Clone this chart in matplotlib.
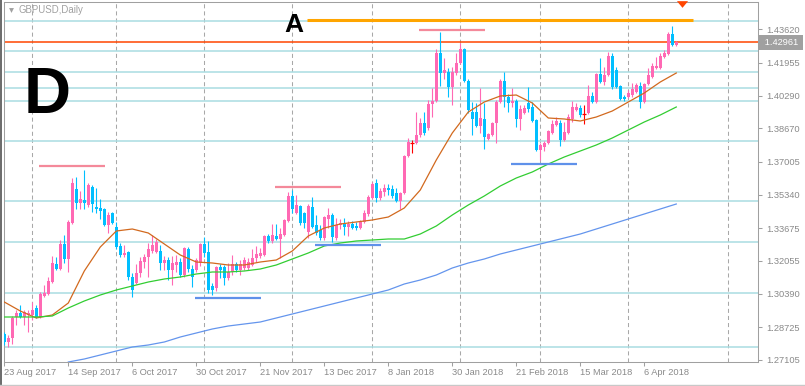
import numpy as np
import matplotlib.pyplot as plt
import matplotlib.transforms as mtransforms
from matplotlib.lines import Line2D
from matplotlib.patches import Rectangle

plt.rcParams['font.family'] = ['Liberation Sans', 'DejaVu Sans']

# ---- GBPUSD daily bars (bar 0 = 23 Aug 2017) ----
opens = [1.2838, 1.2798, 1.2818, 1.2923, 1.2943, 1.2923, 1.2933, 1.2933, 1.2968, 1.2923,
         1.3028, 1.3038, 1.3098, 1.3188, 1.3163, 1.3288, 1.3213, 1.3393, 1.3563, 1.3493,
         1.3508, 1.3483, 1.3573, 1.3473, 1.3468, 1.3463, 1.3383, 1.3443, 1.3373, 1.3278,
         1.3233, 1.3248, 1.3123, 1.3093, 1.3143, 1.3198, 1.3223, 1.3253, 1.3248, 1.3253,
         1.3193, 1.3208, 1.3158, 1.3183, 1.3198, 1.3133, 1.3263, 1.3163, 1.3158, 1.3193,
         1.3288, 1.3248, 1.3078, 1.3068, 1.3173, 1.3173, 1.3118, 1.3148, 1.3188, 1.3158,
         1.3168, 1.3168, 1.3183, 1.3218, 1.3228, 1.3233, 1.3328, 1.3303, 1.3328, 1.3313,
         1.3333, 1.3403, 1.3528, 1.3443, 1.3478, 1.3443, 1.3348, 1.3473, 1.3383, 1.3358,
         1.3318, 1.3413, 1.3433, 1.3318, 1.3383, 1.3388, 1.3373, 1.3388, 1.3378, 1.3368,
         1.3398, 1.3438, 1.3518, 1.3593, 1.3518, 1.3548, 1.3568, 1.3563, 1.3543, 1.3503,
         1.3543, 1.3728, 1.3793, 1.3793, 1.3833, 1.3893, 1.3868, 1.3988, 1.4003, 1.4243,
         1.4143, 1.4148, 1.4073, 1.4143, 1.4193, 1.4263, 1.4103, 1.3948, 1.3948, 1.3878,
         1.3913, 1.3813, 1.3833, 1.3893, 1.3998, 1.4103, 1.4023, 1.3993, 1.4003, 1.3913,
         1.3943, 1.3993, 1.3973, 1.3908, 1.3758, 1.3773, 1.3793, 1.3843, 1.3883, 1.3893,
         1.3808, 1.3843, 1.3913, 1.3958, 1.3968, 1.3938, 1.3943, 1.4028, 1.3998, 1.4138,
         1.4098, 1.4133, 1.4228, 1.4158, 1.4078, 1.4023, 1.4023, 1.4033, 1.4048, 1.4078,
         1.3998, 1.4088, 1.4123, 1.4168, 1.4168, 1.4223, 1.4238, 1.4338, 1.4283]
highs = [1.2848, 1.2833, 1.2928, 1.2958, 1.2983, 1.2958, 1.2958, 1.2998, 1.2983, 1.3048,
         1.3083, 1.3123, 1.3228, 1.3223, 1.3308, 1.3333, 1.3408, 1.3618, 1.3623, 1.3553,
         1.3658, 1.3593, 1.3583, 1.3568, 1.3513, 1.3468, 1.3448, 1.3448, 1.3398, 1.3293,
         1.3283, 1.3253, 1.3143, 1.3188, 1.3223, 1.3238, 1.3293, 1.3333, 1.3313, 1.3283,
         1.3228, 1.3223, 1.3228, 1.3233, 1.3218, 1.3273, 1.3273, 1.3183, 1.3218, 1.3293,
         1.3323, 1.3303, 1.3093, 1.3178, 1.3188, 1.3183, 1.3193, 1.3233, 1.3198, 1.3208,
         1.3223, 1.3218, 1.3263, 1.3278, 1.3268, 1.3333, 1.3338, 1.3388, 1.3388, 1.3368,
         1.3413, 1.3548, 1.3558, 1.3533, 1.3483, 1.3448, 1.3488, 1.3523, 1.3433, 1.3383,
         1.3428, 1.3468, 1.3443, 1.3418, 1.3413, 1.3418, 1.3403, 1.3403, 1.3398, 1.3408,
         1.3458, 1.3533, 1.3598, 1.3613, 1.3568, 1.3588, 1.3588, 1.3583, 1.3568, 1.3548,
         1.3733, 1.3818, 1.3808, 1.3948, 1.3918, 1.3948, 1.4008, 1.4068, 1.4263, 1.4348,
         1.4218, 1.4168, 1.4173, 1.4243, 1.4293, 1.4268, 1.4113, 1.3998, 1.3993, 1.4068,
         1.3993, 1.3843, 1.3898, 1.4008, 1.4113, 1.4148, 1.4038, 1.4068, 1.4013, 1.3983,
         1.3983, 1.4073, 1.3998, 1.3913, 1.3793, 1.3803, 1.3858, 1.3908, 1.3923, 1.3908,
         1.3898, 1.3938, 1.4003, 1.3993, 1.3983, 1.3983, 1.4083, 1.4048, 1.4143, 1.4218,
         1.4173, 1.4248, 1.4243, 1.4173, 1.4083, 1.4033, 1.4058, 1.4093, 1.4093, 1.4098,
         1.4093, 1.4168, 1.4193, 1.4223, 1.4243, 1.4258, 1.4348, 1.4378, 1.4303]
lows = [1.2783, 1.2773, 1.2788, 1.2883, 1.2918, 1.2883, 1.2848, 1.2908, 1.2918, 1.2918,
        1.3023, 1.3033, 1.3093, 1.3158, 1.3158, 1.3193, 1.3148, 1.3388, 1.3463, 1.3463,
        1.3463, 1.3473, 1.3448, 1.3443, 1.3413, 1.3378, 1.3343, 1.3388, 1.3263, 1.3223,
        1.3223, 1.3108, 1.3023, 1.3088, 1.3123, 1.3168, 1.3123, 1.3243, 1.3243, 1.3158,
        1.3158, 1.3108, 1.3083, 1.3148, 1.3123, 1.3123, 1.3148, 1.3073, 1.3148, 1.3178,
        1.3223, 1.3043, 1.3033, 1.3053, 1.3118, 1.3083, 1.3108, 1.3133, 1.3148, 1.3133,
        1.3158, 1.3158, 1.3178, 1.3198, 1.3218, 1.3228, 1.3293, 1.3293, 1.3308, 1.3218,
        1.3328, 1.3398, 1.3443, 1.3438, 1.3383, 1.3368, 1.3318, 1.3368, 1.3333, 1.3308,
        1.3308, 1.3368, 1.3298, 1.3308, 1.3363, 1.3333, 1.3328, 1.3363, 1.3358, 1.3363,
        1.3393, 1.3428, 1.3513, 1.3498, 1.3508, 1.3528, 1.3533, 1.3518, 1.3498, 1.3463,
        1.3538, 1.3723, 1.3743, 1.3788, 1.3823, 1.3833, 1.3858, 1.3923, 1.3998, 1.4078,
        1.4113, 1.4023, 1.3983, 1.4133, 1.4188, 1.4098, 1.3943, 1.3833, 1.3873, 1.3843,
        1.3763, 1.3808, 1.3828, 1.3793, 1.3993, 1.3973, 1.3948, 1.3973, 1.3873, 1.3858,
        1.3938, 1.3948, 1.3898, 1.3753, 1.3708, 1.3753, 1.3788, 1.3838, 1.3878, 1.3778,
        1.3803, 1.3838, 1.3898, 1.3953, 1.3923, 1.3888, 1.3938, 1.3993, 1.3993, 1.4093,
        1.4083, 1.4128, 1.4063, 1.4068, 1.4008, 1.4003, 1.4018, 1.4023, 1.4043, 1.3968,
        1.3993, 1.4083, 1.4118, 1.4163, 1.4163, 1.4218, 1.4233, 1.4278, 1.4278]
closes = [1.2798, 1.2818, 1.2918, 1.2943, 1.2923, 1.2948, 1.2943, 1.2958, 1.2923, 1.3038,
          1.3043, 1.3103, 1.3193, 1.3163, 1.3288, 1.3213, 1.3398, 1.3593, 1.3493, 1.3513,
          1.3493, 1.3583, 1.3488, 1.3463, 1.3453, 1.3383, 1.3433, 1.3393, 1.3273, 1.3233,
          1.3243, 1.3123, 1.3058, 1.3143, 1.3203, 1.3223, 1.3263, 1.3283, 1.3298, 1.3193,
          1.3208, 1.3158, 1.3193, 1.3198, 1.3133, 1.3268, 1.3163, 1.3123, 1.3208, 1.3288,
          1.3243, 1.3058, 1.3058, 1.3173, 1.3158, 1.3118, 1.3148, 1.3188, 1.3158, 1.3188,
          1.3208, 1.3198, 1.3218, 1.3238, 1.3243, 1.3328, 1.3303, 1.3333, 1.3313, 1.3338,
          1.3408, 1.3528, 1.3463, 1.3483, 1.3393, 1.3393, 1.3478, 1.3373, 1.3343, 1.3318,
          1.3423, 1.3433, 1.3323, 1.3383, 1.3393, 1.3373, 1.3388, 1.3368, 1.3368, 1.3398,
          1.3443, 1.3523, 1.3588, 1.3518, 1.3553, 1.3568, 1.3558, 1.3528, 1.3503, 1.3543,
          1.3728, 1.3798, 1.3793, 1.3833, 1.3893, 1.3843, 1.3988, 1.4003, 1.4243, 1.4143,
          1.4158, 1.4073, 1.4148, 1.4193, 1.4263, 1.4103, 1.3958, 1.3913, 1.3878, 1.3918,
          1.3823, 1.3838, 1.3893, 1.3998, 1.4103, 1.4023, 1.3993, 1.4003, 1.3913, 1.3963,
          1.3968, 1.3963, 1.3903, 1.3758, 1.3783, 1.3793, 1.3853, 1.3888, 1.3903, 1.3808,
          1.3848, 1.3923, 1.3973, 1.3973, 1.3933, 1.3938, 1.4028, 1.3998, 1.4138, 1.4098,
          1.4133, 1.4228, 1.4073, 1.4073, 1.4013, 1.4013, 1.4043, 1.4063, 1.4083, 1.3998,
          1.4088, 1.4133, 1.4178, 1.4178, 1.4228, 1.4243, 1.4338, 1.4283, 1.4296]

# moving averages read every 4th bar
ma_bars = list(range(0, 169, 4))
ma_fast = [1.2998, 1.2953, 1.2918, 1.2933, 1.2993, 1.3153, 1.3273, 1.3353, 1.3363, 1.3343,
           1.3288, 1.3233, 1.3198, 1.3193, 1.3183, 1.3183, 1.3198, 1.3208, 1.3253, 1.3328,
           1.3368, 1.3388, 1.3398, 1.3408, 1.3423, 1.3468, 1.3558, 1.3708, 1.3843, 1.3948,
           1.3998, 1.4028, 1.4033, 1.3993, 1.3918, 1.3913, 1.3903, 1.3923, 1.3953, 1.3998,
           1.4043, 1.4098, 1.4143]
ma_mid = [1.2923, 1.2923, 1.2923, 1.2928, 1.2968, 1.3003, 1.3033, 1.3058, 1.3078, 1.3098,
          1.3113, 1.3123, 1.3138, 1.3148, 1.3148, 1.3153, 1.3163, 1.3183, 1.3213, 1.3243,
          1.3278, 1.3293, 1.3303, 1.3308, 1.3313, 1.3313, 1.3338, 1.3378, 1.3433, 1.3483,
          1.3528, 1.3578, 1.3618, 1.3648, 1.3688, 1.3723, 1.3753, 1.3783, 1.3818, 1.3858,
          1.3898, 1.3933, 1.3973]
ma_slow_bars = list(range(16, 169, 4))
ma_slow = [1.2698, 1.2713, 1.2733, 1.2753, 1.2773, 1.2783, 1.2798, 1.2823, 1.2843, 1.2863,
           1.2878, 1.2888, 1.2898, 1.2918, 1.2938, 1.2958, 1.2978, 1.2998, 1.3018, 1.3038,
           1.3058, 1.3088, 1.3108, 1.3133, 1.3168, 1.3193, 1.3213, 1.3238, 1.3258, 1.3278,
           1.3298, 1.3318, 1.3338, 1.3363, 1.3388, 1.3413, 1.3438, 1.3463, 1.3488]

# horizontal levels and drawn objects
levels = [1.4405, 1.4253, 1.4148, 1.4067, 1.4003, 1.3803, 1.3503, 1.3298, 1.3042, 1.2773]
last_price = 1.42961
res_start = [8.7, 67.7, 103.7]
res_price = [1.3680, 1.3575, 1.4358]
sup_start = [47.7, 77.7, 126.7]
sup_price = [1.3020, 1.3285, 1.3690]
seg_len = 16.5
a_line = (75.7, 172.2, 1.4407)

yticks = [1.43620, 1.41955, 1.40290, 1.38670, 1.37005, 1.35340,
          1.33675, 1.32055, 1.30390, 1.28725, 1.27105]
xtick_bars = [0, 16, 32, 48, 64, 80, 96, 112, 128, 144, 160]
xtick_labels = ["23 Aug 2017", "14 Sep 2017", "6 Oct 2017", "30 Oct 2017", "21 Nov 2017",
                "13 Dec 2017", "8 Jan 2018", "30 Jan 2018", "21 Feb 2018", "15 Mar 2018",
                "6 Apr 2018"]
vgrid_bars = [7, 28, 50, 72, 92, 114, 134, 156, 181]

W, H = 805, 386
GRAY = '#8a8a8a'
PINK = '#FF69B4'
SKY = '#00BFFF'

fig = plt.figure(figsize=(W / 100, H / 100), dpi=100)
ax = fig.add_axes([3.5 / W, 24 / H, 754.5 / W, 360 / H])
ax.set_xlim(-0.2, 188.43)
ax.set_ylim(1.2698, 1.4498)

for b in vgrid_bars:
    ax.axvline(b, color='#a8a8a8', lw=0.75, dashes=(3.9, 2.9), zorder=0)
for v in levels:
    ax.axhline(v, color='#a9dde2', lw=1.1, zorder=1)
ax.axhline(last_price, color='#FF4500', lw=1.1, zorder=2)

o, h, l, c = (np.array(a) for a in (opens, highs, lows, closes))
x = np.arange(len(o))
up, dn, dj = c > o, c < o, c == o
for m, col in ((up, PINK), (dn, SKY)):
    ax.vlines(x[m], l[m], h[m], color=col, lw=0.8, zorder=3)
    ax.bar(x[m], np.abs(c[m] - o[m]), bottom=np.minimum(o[m], c[m]), width=0.75,
           color=col, lw=0, zorder=3)
ax.vlines(x[dj], l[dj], h[dj], color='red', lw=0.8, zorder=3)
ax.hlines(c[dj], x[dj] - 0.45, x[dj] + 0.45, color='red', lw=0.9, zorder=3)

ax.plot(ma_bars, ma_fast, color='#D2691E', lw=0.9, zorder=4)
ax.plot(ma_bars, ma_mid, color='#32CD32', lw=0.9, zorder=4)
ax.plot(ma_slow_bars, ma_slow, color='#6495ED', lw=0.9, zorder=4)

for s, p in zip(res_start, res_price):
    ax.plot([s, s + seg_len], [p, p], color='#F4899A', lw=1.6, zorder=5, solid_capstyle='butt')
for s, p in zip(sup_start, sup_price):
    ax.plot([s, s + seg_len], [p, p], color='#5F91EA', lw=1.6, zorder=5, solid_capstyle='butt')
ax.plot([a_line[0], a_line[1]], [a_line[2], a_line[2]], color='#FFA500', lw=2.2,
        zorder=5, solid_capstyle='butt')

ax.plot([169.35], [1.4487], marker=[(-1, 0.6), (1, 0.6), (0, -0.6)], ms=8,
        color='#FF4500', mew=0, clip_on=False, zorder=6)

# axes styling
for sp in ax.spines.values():
    sp.set_color('#a0a0a0')
    sp.set_linewidth(0.75)
ax.yaxis.tick_right()
ax.set_yticks(yticks)
ax.set_yticklabels([f"{t:.5f}" for t in yticks])
ax.tick_params(axis='y', direction='out', length=3, width=0.75, color='#a0a0a0',
               labelsize=6.7, labelcolor=GRAY, pad=3)
ax.set_xticks(xtick_bars)
ax.set_xticklabels(xtick_labels, ha='left')
ax.tick_params(axis='x', direction='out', length=3, width=0.75, color='#a0a0a0',
               labelsize=6.7, labelcolor=GRAY, pad=1.5)

trans = mtransforms.blended_transform_factory(ax.transAxes, ax.transData)
ax.text(1.0305, last_price, " 1.42961 ", transform=trans, ha='center', va='center',
        fontsize=6.7, color='white',
        bbox=dict(boxstyle='square,pad=0.3', fc='#a0a0a0', ec='none'))

# labels on the chart
fig.text(18 / W, 1 - 10 / H, "GBPUSD,Daily", fontsize=6.9, color='#a0a0a0',
         ha='left', va='center')
fig.add_artist(Line2D([10.5 / W], [1 - 10 / H], marker='v', ms=3.5, color='#a0a0a0',
                      mew=0, transform=fig.transFigure))
fig.text(47.5 / W, 1 - 113 / H, "D", fontsize=47, fontweight='bold', color='black',
         ha='center', va='baseline')
fig.text(294 / W, 1 - 32 / H, "A", fontsize=19, fontweight='bold', color='black',
         ha='center', va='baseline')

# window frame
fig.add_artist(Rectangle((0, 0), 2 / W, 1, transform=fig.transFigure,
                         fc='#6e6e6e', ec='none'))
fig.add_artist(Line2D([0, 1], [1.5 / H, 1.5 / H], color='#c8c8c8', lw=1,
                      transform=fig.transFigure))

fig.savefig("out.png", dpi=100)
